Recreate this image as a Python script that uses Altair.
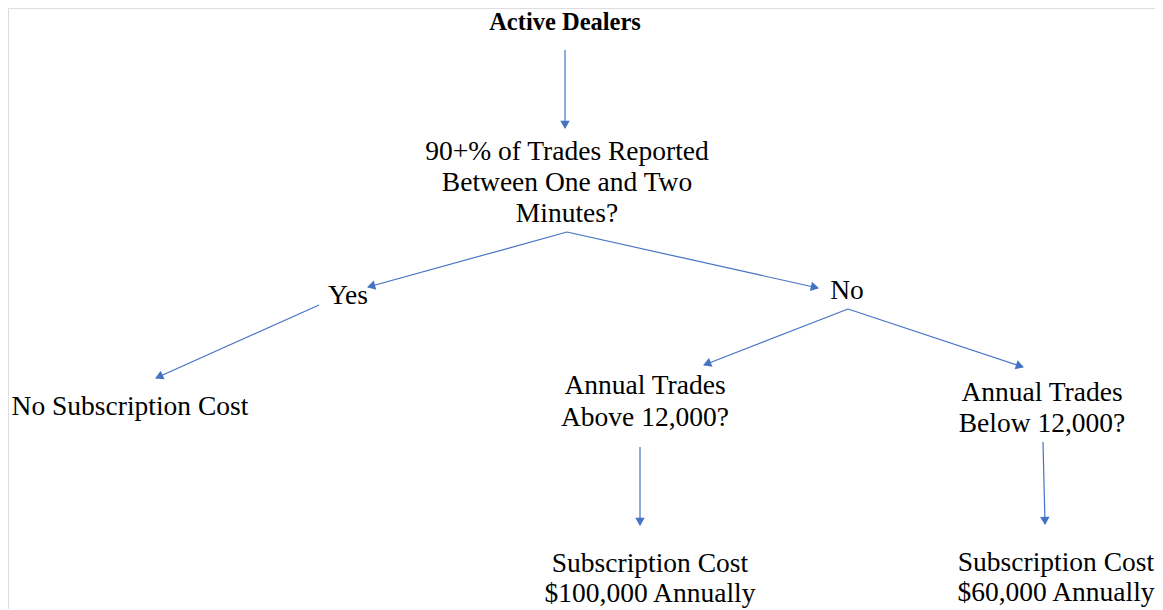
import math
import altair as alt
import pandas as pd

W, H = 1147, 601
BLUE = "#4472C4"
FONT = "Liberation Serif"

# ---- flowchart content ----
title_lines = ["Active Dealers"]
title_x = [565]
title_y = [23]

node_lines = [
    ["90+% of Trades Reported", "Between One and Two", "Minutes?"],
    ["Yes"],
    ["No"],
    ["No Subscription Cost"],
    ["Annual Trades", "Above 12,000?"],
    ["Annual Trades", "Below 12,000?"],
    ["Subscription Cost", "$100,000 Annually"],
    ["Subscription Cost", "$60,000 Annually"],
]
node_x = [567, 348, 847, 130, 645, 1042, 650, 1056]
node_y = [152, 296, 291, 407, 386, 393, 564, 563]
line_gap = [31, 0, 0, 0, 32, 31, 30, 30]

# edges: start point -> arrow tip
edge_x1 = [565, 567, 567, 319, 848, 848, 640, 1043]
edge_y1 = [50, 232, 232, 305, 309, 309, 447, 442]
edge_x2 = [565, 368, 818, 156, 704, 1023, 640, 1045]
edge_y2 = [128, 287, 288, 378, 365, 367, 525, 524]

# ---- tables ----
text_rows = []
for lines, x, y, g in zip(node_lines, node_x, node_y, line_gap):
    for i, t in enumerate(lines):
        text_rows.append({"x": x, "y": y + i * g, "t": t})
text_df = pd.DataFrame(text_rows)
title_df = pd.DataFrame({"x": title_x, "y": title_y, "t": title_lines})

edge_df = pd.DataFrame({"x1": edge_x1, "y1": edge_y1, "x2": edge_x2, "y2": edge_y2})
heads = []
for x1, y1, x2, y2 in zip(edge_x1, edge_y1, edge_x2, edge_y2):
    dx, dy = x2 - x1, y2 - y1
    L = math.hypot(dx, dy)
    ux, uy = dx / L, dy / L
    ang = math.degrees(math.atan2(dx, -dy)) % 360
    heads.append({"x": x2 - 4.5 * ux, "y": y2 - 4.5 * uy, "a": ang})
head_df = pd.DataFrame(heads)

xs = alt.Scale(domain=[8, 8 + W], nice=False, zero=False)
ys = alt.Scale(domain=[8, 8 + H], nice=False, zero=False, reverse=True)

X = lambda f: alt.X(f, type="quantitative", scale=xs, axis=None)
Y = lambda f: alt.Y(f, type="quantitative", scale=ys, axis=None)

rules = alt.Chart(edge_df).mark_rule(color=BLUE, strokeWidth=1.2).encode(
    x=X("x1"), y=Y("y1"), x2="x2", y2="y2"
)
arrow_heads = alt.Chart(head_df).mark_point(
    shape="triangle", filled=True, color=BLUE, size=90, opacity=1
).encode(x=X("x"), y=Y("y"), angle=alt.Angle("a:Q", scale=None))

texts = alt.Chart(text_df).mark_text(
    font=FONT, fontSize=27.5, color="black", align="center", baseline="middle"
).encode(x=X("x"), y=Y("y"), text="t:N")

title = alt.Chart(title_df).mark_text(
    font=FONT, fontSize=24.5, fontWeight="bold", color="black", align="center", baseline="middle"
).encode(x=X("x"), y=Y("y"), text="t:N")

chart = (
    alt.layer(rules, arrow_heads, texts, title)
    .properties(width=W, height=H, padding=0, autosize=alt.AutoSizeParams(type="none"))
    .configure_view(stroke="transparent", strokeWidth=0, fill="white")
    .configure(background="white")
)

chart.save("out.html", embed_options={"renderer": "svg", "actions": False})
